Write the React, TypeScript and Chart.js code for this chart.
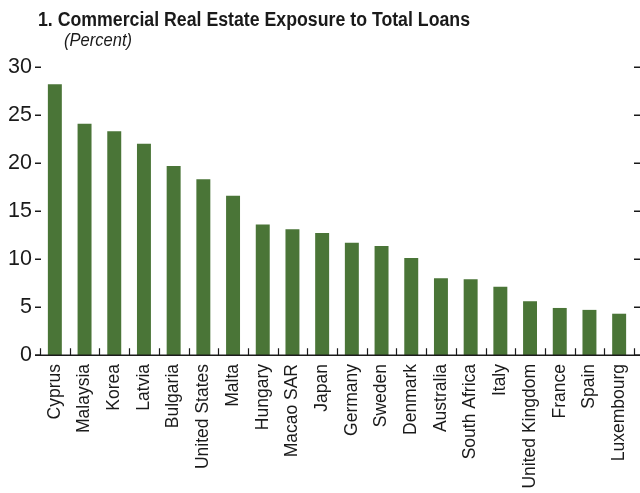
import React, { useEffect, useRef } from "react";
import { Chart, registerables } from "chart.js";

Chart.register(...registerables);

const countries = [
  "Cyprus", "Malaysia", "Korea", "Latvia", "Bulgaria", "United States", "Malta",
  "Hungary", "Macao SAR", "Japan", "Germany", "Sweden", "Denmark", "Australia",
  "South Africa", "Italy", "United Kingdom", "France", "Spain", "Luxembourg",
];
const exposure = [
  28.2, 24.1, 23.3, 22.0, 19.7, 18.3, 16.6, 13.6, 13.1, 12.7,
  11.7, 11.35, 10.1, 8.0, 7.9, 7.1, 5.6, 4.9, 4.7, 4.3,
];
const yTickValues = [0, 5, 10, 15, 20, 25, 30];
const titleText = "1. Commercial Real Estate Exposure to Total Loans";
const subtitleText = "(Percent)";

const BAR_COLOR = "#4a7537";
const INK = "#1a1a1a";
const FAMILY = "'Liberation Sans', Arial, sans-serif";

function fitText(ctx: CanvasRenderingContext2D, text: string, x: number, y: number, width: number) {
  const w = ctx.measureText(text).width;
  ctx.save();
  ctx.translate(x, y);
  ctx.scale(width / w, 1);
  ctx.fillText(text, 0, 0);
  ctx.restore();
}

const decorPlugin = {
  id: "decor",
  afterDraw(chart: any) {
    const ctx = chart.ctx as CanvasRenderingContext2D;
    const area = chart.chartArea;
    const x = chart.scales.x;
    const y = chart.scales.y;
    ctx.save();
    ctx.fillStyle = INK;
    ctx.textBaseline = "alphabetic";
    ctx.textAlign = "left";
    ctx.font = `bold 20px ${FAMILY}`;
    fitText(ctx, titleText, 38, 26, 432);
    ctx.font = `italic 18px ${FAMILY}`;
    fitText(ctx, subtitleText, 64, 46, 68);

    ctx.strokeStyle = INK;
    ctx.lineWidth = 1.5;
    for (const v of yTickValues) {
      const py = Math.round(y.getPixelForValue(v)) + 0.25;
      ctx.beginPath();
      ctx.moveTo(area.left - 5, py);
      ctx.lineTo(area.left + 1, py);
      ctx.moveTo(area.right, py);
      ctx.lineTo(area.right + 7, py);
      ctx.stroke();
    }
    const by = Math.round(y.getPixelForValue(0)) + 0.25;
    ctx.beginPath();
    ctx.moveTo(area.left - 5, by);
    ctx.lineTo(chart.width, by);
    ctx.stroke();
    ctx.lineWidth = 1.2;
    const n = countries.length;
    const step = (x.getPixelForValue(n - 1) - x.getPixelForValue(0)) / (n - 1);
    for (let i = 0; i <= n; i++) {
      const px = Math.round(x.getPixelForValue(0) - step / 2 + i * step) + 0.5;
      ctx.beginPath();
      ctx.moveTo(px, by);
      ctx.lineTo(px, by - 7);
      ctx.stroke();
    }
    ctx.restore();
  },
};

export default function App() {
  const canvasRef = useRef<HTMLCanvasElement | null>(null);

  useEffect(() => {
    document.body.style.margin = "0";
    const canvas = canvasRef.current;
    if (!canvas) return;
    const chart = new Chart(canvas, {
      type: "bar",
      data: {
        labels: countries,
        datasets: [
          {
            data: exposure,
            backgroundColor: BAR_COLOR,
            borderWidth: 0,
            categoryPercentage: 1,
            barPercentage: 0.47,
          },
        ],
      },
      options: {
        animation: false,
        responsive: true,
        maintainAspectRatio: false,
        layout: { padding: { top: 67, right: 6, left: 0, bottom: 0 } },
        plugins: {
          legend: { display: false },
          tooltip: { enabled: false },
          title: { display: false },
        },
        scales: {
          x: {
            grid: { display: false, drawTicks: false },
            border: { display: false },
            afterFit: (s: any) => {
              s.height = 138;
              s.paddingLeft = 0;
              s.paddingRight = 0;
            },
            ticks: {
              autoSkip: false,
              minRotation: 90,
              maxRotation: 90,
              padding: 9,
              color: INK,
              font: { family: FAMILY, size: 17.5 },
            },
          },
          y: {
            min: 0,
            max: 30,
            grid: { display: false, drawTicks: false },
            border: { display: false },
            afterFit: (s: any) => {
              s.width = 40;
              s.paddingTop = 0;
              s.paddingBottom = 0;
            },
            afterBuildTicks: (s: any) => {
              s.ticks = yTickValues.map((v) => ({ value: v }));
            },
            ticks: {
              padding: 8,
              color: INK,
              font: { family: FAMILY, size: 21.5 },
            },
          },
        },
      },
      plugins: [decorPlugin],
    });
    return () => chart.destroy();
  }, []);

  return (
    <div style={{ position: "relative", width: 640, height: 493 }}>
      <canvas ref={canvasRef} />
    </div>
  );
}
